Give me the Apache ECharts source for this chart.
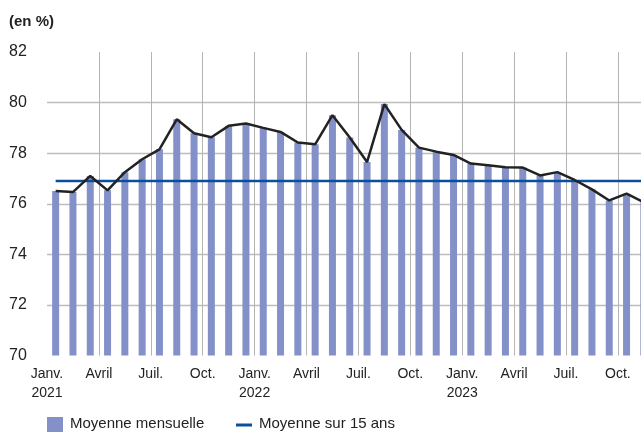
<!DOCTYPE html>
<html>
<head>
<meta charset="utf-8">
<script src="https://cdn.jsdelivr.net/npm/echarts@6/dist/echarts.min.js"></script>
<style>
html,body{margin:0;padding:0;background:#fff;}
#c{width:641px;height:434px;}
</style>
</head>
<body>
<div id="c"></div>
<script>
// Monthly values, Jan 2021 .. Nov 2023 (in %)
const months = ["2021-01","2021-02","2021-03","2021-04","2021-05","2021-06","2021-07","2021-08","2021-09","2021-10","2021-11","2021-12",
  "2022-01","2022-02","2022-03","2022-04","2022-05","2022-06","2022-07","2022-08","2022-09","2022-10","2022-11","2022-12",
  "2023-01","2023-02","2023-03","2023-04","2023-05","2023-06","2023-07","2023-08","2023-09","2023-10","2023-11"];
const monthly = [76.5,76.46,77.1,76.53,77.25,77.76,78.15,79.34,78.79,78.63,79.08,79.17,
  79.0,78.84,78.42,78.35,79.5,78.62,77.65,79.94,78.92,78.22,78.06,77.93,
  77.59,77.52,77.44,77.43,77.12,77.25,76.94,76.57,76.13,76.4,76.06];
const average15 = 76.9;
const tickLabels = ["Janv.\n2021","Avril","Juil.","Oct.","Janv.\n2022","Avril","Juil.","Oct.","Janv.\n2023","Avril","Juil.","Oct."];
const yTicks = [70,72,74,76,78,80,82];

const FONT = '"Liberation Sans Narrow","Arial Narrow","Liberation Sans",Arial,sans-serif';
const pts = monthly.map((v,i)=>[i+0.5, v]);

const chart = echarts.init(document.getElementById('c'), null, {renderer:'canvas'});
chart.setOption({
  animation:false,
  backgroundColor:'#fff',
  graphic:[
    {type:'text', left:9, top:14, style:{text:'(en %)', font:'bold 15px '+FONT, fill:'#222'}},
    {type:'rect', shape:{x:47, y:417, width:16, height:15}, style:{fill:'#8391c8'}},
    {type:'text', left:70, top:416, style:{text:'Moyenne mensuelle', font:'15px '+FONT, fill:'#222'}},
    {type:'rect', shape:{x:236, y:423.5, width:16, height:3}, style:{fill:'#0a4f9e'}},
    {type:'text', left:259, top:416, style:{text:'Moyenne sur 15 ans', font:'15px '+FONT, fill:'#222'}}
  ],
  grid:{left:47, top:52, width:622.8, height:303.5, containLabel:false, outerBoundsMode:'none'},
  xAxis:{
    type:'value', min:0, max:36, interval:3,
    axisLine:{show:false}, axisTick:{show:false},
    splitLine:{show:true, showMinLine:false, showMaxLine:false, lineStyle:{color:'#b4b4b4', width:1}},
    axisLabel:{
      margin:9, color:'#222', fontFamily:FONT, fontSize:14, lineHeight:19,
      formatter:(v)=>{ const k=Math.round(v/3); return (Math.abs(v-3*k)<1e-6 && k<tickLabels.length)? tickLabels[k] : ''; }
    }
  },
  yAxis:{
    type:'value', min:70, max:82, interval:2,
    axisLine:{show:false}, axisTick:{show:false},
    splitLine:{show:true, showMinLine:false, showMaxLine:false, lineStyle:{color:'#bdbdbd', width:1.3}},
    axisLabel:{margin:38, align:'left', color:'#222', fontFamily:FONT, fontSize:16}
  },
  series:[
    {type:'bar', data:pts, barWidth:7, itemStyle:{color:'#8391c8'}, z:2},
    {type:'line', data:pts, symbol:'none', lineStyle:{color:'#222', width:2.5}, z:4},
    {type:'line', data:[[0.5,average15],[36,average15]], symbol:'none', lineStyle:{color:'#0a4f9e', width:2.5}, z:3}
  ]
});
</script>
</body>
</html>
